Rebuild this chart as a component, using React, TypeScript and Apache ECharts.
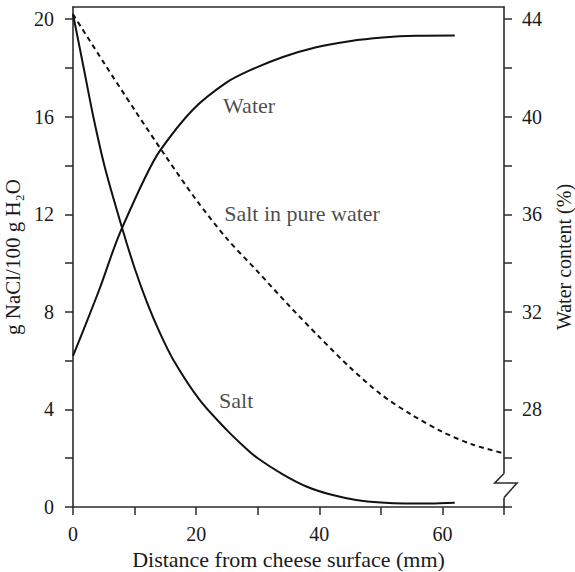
import React, { useEffect, useRef } from "react";
import * as echarts from "echarts";

// Distance from cheese surface (mm) and g NaCl / 100 g H2O for the "Salt" curve
const saltX = [0, 1.7, 3.3, 5.2, 8.0, 10, 12, 14, 16.3, 20.6, 25, 28.1, 30, 34, 38, 42, 46, 50, 54, 58, 62];
const saltY = [20.2, 18.05, 16.0, 13.9, 11.42, 9.8, 8.4, 7.2, 6.03, 4.38, 3.15, 2.4, 2.0, 1.35, 0.83, 0.5, 0.29, 0.18, 0.14, 0.14, 0.17];

// "Salt in pure water" dashed curve
const pureX = [0, 5, 10, 15, 20, 25, 30, 35, 40, 45, 50, 55, 60, 65, 70];
const pureY = [20.2, 18.22, 16.28, 14.4, 12.6, 11.0, 9.65, 8.28, 6.97, 5.72, 4.62, 3.78, 3.08, 2.55, 2.2];

// Water content (%) on the right axis
const waterX = [0, 2, 4.4, 6.5, 7.9, 11.7, 14.1, 19.5, 24.9, 28.7, 34.1, 39.5, 44.9, 50.3, 55.7, 62];
const waterY = [30.2, 31.45, 33.0, 34.5, 35.4, 37.5, 38.6, 40.3, 41.4, 41.9, 42.45, 42.85, 43.1, 43.25, 43.32, 43.33];

// Axis ticks and labels
const xTicks = [0, 10, 20, 30, 40, 50, 60, 70];
const xLabels = [0, 20, 40, 60];
const leftTicks = [0, 2, 4, 6, 8, 10, 12, 14, 16, 18, 20];
const leftLabels = [0, 4, 8, 12, 16, 20];
const rightTicks = [24, 26, 28, 30, 32, 34, 36, 38, 40, 42, 44];
const rightLabels = [28, 32, 36, 40, 44];

// In-plot annotations
const noteTexts = ["Water", "Salt in pure water", "Salt"];
const noteX = [28.6, 37.2, 26.5];
const noteY = [16.46, 12.03, 4.37];

const zip = (xs: number[], ys: number[]) => xs.map((x, i) => [x, ys[i]]);

export default function App() {
  const ref = useRef<HTMLDivElement>(null);
  useEffect(() => {
    const chart = echarts.init(ref.current!, null, { renderer: "svg" });
    const font = "Liberation Serif";
    const ink = "#1a1a1a";
    const axisColor = "#2b2b2b";
    const axisLine = { show: true, onZero: false, lineStyle: { color: axisColor, width: 1.6 } };
    const tickStyle = { color: axisColor, width: 1.5 };
    const labelStyle = { fontSize: 20, color: ink, fontFamily: font };
    const nameStyle = { fontSize: 21, color: ink, fontFamily: font };

    chart.setOption({
      animation: false,
      textStyle: { fontFamily: font },
      grid: {
        left: 73,
        right: 71,
        top: 7,
        bottom: 65,
        containLabel: false,
        outerBoundsMode: "none",
      },
      xAxis: [
        {
          type: "value",
          min: 0,
          max: 70,
          interval: 10,
          position: "bottom",
          name: "Distance from cheese surface (mm)",
          nameLocation: "middle",
          nameGap: 41,
          nameTextStyle: { ...nameStyle, fontSize: 22 },
          axisLine,
          axisTick: { show: true, length: 8, lineStyle: tickStyle, customValues: xTicks },
          axisLabel: {
            ...labelStyle,
            margin: 17,
            customValues: xLabels,
            formatter: (v: number) => (xLabels.includes(v) ? String(v) : ""),
          },
          splitLine: { show: false },
        },
        {
          type: "value",
          min: 0,
          max: 70,
          position: "top",
          axisLine,
          axisTick: { show: false },
          axisLabel: { show: false },
          splitLine: { show: false },
        },
      ],
      yAxis: [
        {
          type: "value",
          min: 0,
          max: 20.5,
          interval: 2,
          position: "left",
          name: "g NaCl/100 g H\u2082O",
          nameLocation: "middle",
          nameRotate: 90,
          nameGap: 48,
          nameTextStyle: nameStyle,
          axisLine,
          axisTick: { show: true, length: 8, lineStyle: tickStyle, customValues: leftTicks },
          axisLabel: {
            ...labelStyle,
            margin: 19,
            customValues: leftLabels,
            formatter: (v: number) => (leftLabels.includes(v) ? String(v) : ""),
          },
          splitLine: { show: false },
        },
        {
          type: "value",
          min: 24,
          max: 44.5,
          interval: 2,
          position: "right",
          name: "Water content (%)",
          nameLocation: "middle",
          nameRotate: 90,
          nameGap: 50,
          nameTextStyle: { ...nameStyle, fontSize: 20 },
          axisLine,
          axisTick: { show: true, length: 8, lineStyle: tickStyle, customValues: rightTicks },
          axisLabel: {
            ...labelStyle,
            margin: 18,
            customValues: rightLabels,
            formatter: (v: number) => (rightLabels.includes(v) ? String(v) : ""),
          },
          splitLine: { show: false },
        },
      ],
      series: [
        {
          name: "Salt",
          type: "line",
          data: zip(saltX, saltY),
          smooth: 0.3,
          showSymbol: false,
          symbol: "none",
          lineStyle: { color: "#111", width: 2 },
          yAxisIndex: 0,
        },
        {
          name: "Salt in pure water",
          type: "line",
          data: zip(pureX, pureY),
          smooth: 0.3,
          showSymbol: false,
          symbol: "none",
          lineStyle: { color: "#111", width: 2, type: [5, 4] },
          yAxisIndex: 0,
        },
        {
          name: "Water",
          type: "line",
          data: zip(waterX, waterY),
          smooth: 0.3,
          showSymbol: false,
          symbol: "none",
          lineStyle: { color: "#111", width: 2 },
          yAxisIndex: 1,
        },
        {
          name: "notes",
          type: "scatter",
          symbolSize: 0,
          yAxisIndex: 0,
          silent: true,
          data: noteTexts.map((t, i) => ({ name: t, value: [noteX[i], noteY[i]] })),
          label: {
            show: true,
            position: "inside",
            formatter: "{b}",
            fontSize: 22,
            color: ink,
            fontFamily: font,
          },
        },
      ],
    });

    // Axis break on the right axis, positioned from the axis scale
    const p = chart.convertToPixel({ xAxisIndex: 0, yAxisIndex: 0 }, [70, 0]) as number[];
    const x = p[0];
    const y = p[1];
    chart.setOption({
      graphic: [
        {
          type: "rect",
          z: 100,
          shape: { x: x - 3, y: y - 33.5, width: 6, height: 24.5 },
          style: { fill: "#fff" },
        },
        {
          type: "polyline",
          z: 101,
          shape: {
            points: [
              [x, y - 33.5],
              [x - 9.3, y - 24],
              [x + 13, y - 24],
              [x, y - 9.4],
            ],
          },
          style: { stroke: axisColor, lineWidth: 1.6, fill: "none" },
        },
      ],
    });

    return () => chart.dispose();
  }, []);
  return (
    <div
      ref={ref}
      style={{ position: "absolute", left: 0, top: 0, width: 575, height: 572, background: "#fff" }}
    />
  );
}
